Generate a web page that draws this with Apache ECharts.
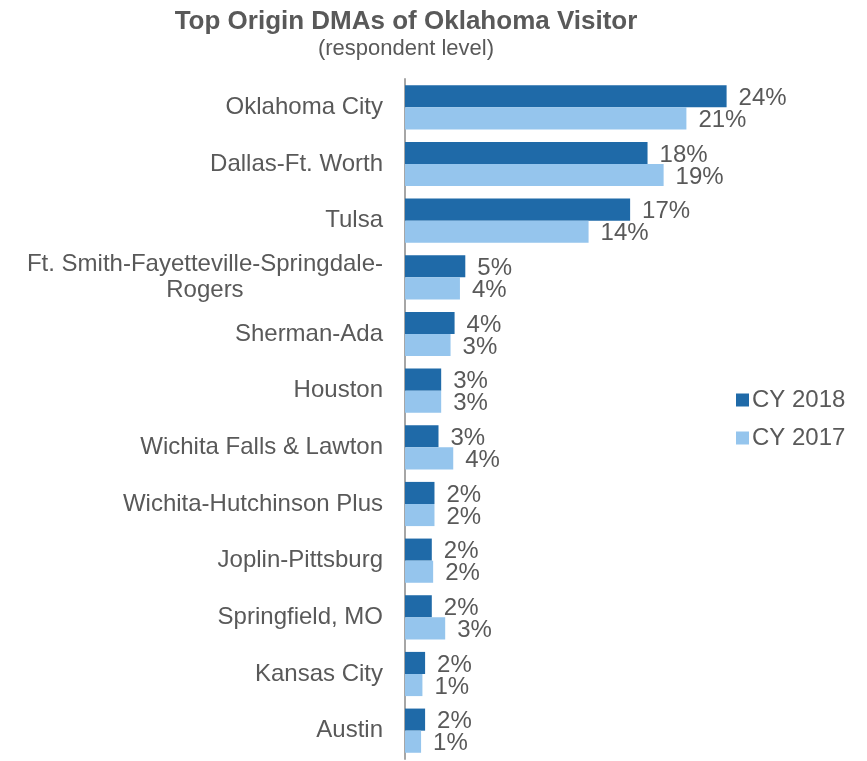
<!DOCTYPE html>
<html>
<head>
<meta charset="utf-8">
<script src="https://cdn.jsdelivr.net/npm/echarts@6/dist/echarts.min.js"></script>
<style>
  html, body { margin: 0; padding: 0; background: #fff; }
  #chart { width: 867px; height: 761px; }
</style>
</head>
<body>
<div id="chart"></div>
<script>
// categories, top to bottom
const dmas = [
    'Oklahoma City',
    'Dallas-Ft. Worth',
    'Tulsa',
    'Ft. Smith-Fayetteville-Springdale-\nRogers',
    'Sherman-Ada',
    'Houston',
    'Wichita Falls & Lawton',
    'Wichita-Hutchinson Plus',
    'Joplin-Pittsburg',
    'Springfield, MO',
    'Kansas City',
    'Austin'
];

// share of respondents, %
const cy2018 = [24.0, 18.1, 16.8, 4.5, 3.7, 2.7, 2.5, 2.2, 2.0, 2.0, 1.5, 1.5];
const cy2017 = [21.0, 19.3, 13.7, 4.1, 3.4, 2.7, 3.6, 2.2, 2.1, 3.0, 1.3, 1.2];

const seriesNames = ['CY 2018', 'CY 2017'];

const textColor = '#595959';
const font = 'Liberation Sans, Arial, sans-serif';

const chart = echarts.init(document.getElementById('chart'));

const labelOpt = {
    show: true,
    position: 'right',
    distance: 12,
    offset: [0, 2],
    color: textColor,
    fontFamily: font,
    fontSize: 24,
    formatter: function (p) {
        return Math.round(p.value) + '%';
    }
};

const option = {
    animation: false,
    title: {
        text: 'Top Origin DMAs of Oklahoma Visitor',
        subtext: '(respondent level)',
        left: 401,
        textAlign: 'center',
        top: 4,
        itemGap: 3,
        textStyle: {
            color: textColor,
            fontFamily: font,
            fontSize: 26,
            fontWeight: 'bold'
        },
        subtextStyle: {
            color: textColor,
            fontFamily: font,
            fontSize: 22
        }
    },
    legend: {
        orient: 'vertical',
        left: 731,
        top: 383,
        itemWidth: 13,
        itemHeight: 13,
        itemGap: 14,
        icon: 'rect',
        textStyle: {
            color: textColor,
            fontFamily: font,
            fontSize: 24,
            padding: [0, 0, 0, -2]
        },
        data: seriesNames
    },
    grid: {
        left: 405,
        right: 60,
        top: 79,
        bottom: 2
    },
    xAxis: {
        type: 'value',
        min: 0,
        max: 30,
        show: false
    },
    yAxis: {
        type: 'category',
        inverse: true,
        data: dmas,
        axisLine: { lineStyle: { color: '#a6a6a6', width: 2 } },
        axisTick: { show: false },
        axisLabel: {
            margin: 22,
            color: textColor,
            fontFamily: font,
            fontSize: 24,
            lineHeight: 26,
            formatter: function (v) {
                return '{c|' + v + '}';
            },
            rich: {
                c: {
                    align: 'center',
                    color: textColor,
                    fontFamily: font,
                    fontSize: 24,
                    lineHeight: 26
                }
            }
        }
    },
    series: [
        {
            name: seriesNames[0],
            type: 'bar',
            data: cy2018,
            barGap: '0%',
            barCategoryGap: '22%',
            itemStyle: { color: '#1f6aa8' },
            label: labelOpt
        },
        {
            name: seriesNames[1],
            type: 'bar',
            data: cy2017,
            barGap: '0%',
            barCategoryGap: '22%',
            itemStyle: { color: '#95c5ed' },
            label: labelOpt
        }
    ]
};

chart.setOption(option);
</script>
</body>
</html>
